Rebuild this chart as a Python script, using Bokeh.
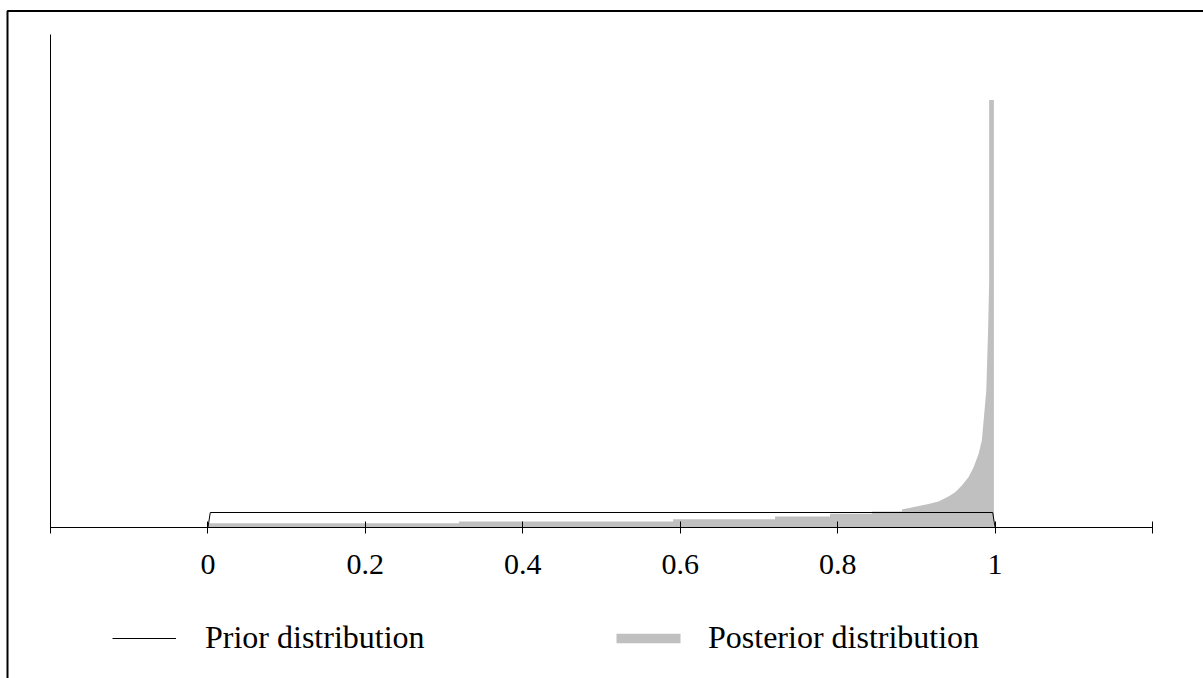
from bokeh.plotting import figure
from bokeh.models import Range1d, LinearAxis, FixedTicker, Legend, LegendItem
from bokeh.embed import file_html
from bokeh.resources import INLINE

# ---- data -------------------------------------------------------------
# x-axis ticks
tick_values = [-0.2, 0.0, 0.2, 0.4, 0.6, 0.8, 1.0, 1.2]
tick_labels = ["", "0", "0.2", "0.4", "0.6", "0.8", "1", ""]

# prior: uniform density on [0, 1]
prior_x = [-0.2, 0.0, 0.003, 0.997, 1.0, 1.2]
prior_y = [0.0, 0.0, 1.0, 1.0, 0.0, 0.0]

# posterior: piecewise-constant part ...
step_edges = [0.0, 0.319, 0.591, 0.7205, 0.7903, 0.8436, 0.8817]
step_density = [0.28, 0.40, 0.55, 0.73, 0.91, 1.07]
# ... smooth rise towards 1 ...
curve_x = [0.8817, 0.9154, 0.9281, 0.9408, 0.9493, 0.9578, 0.9662,
           0.9726, 0.9790, 0.9832, 0.9888, 0.9910, 0.9925]
curve_y = [1.20, 1.56, 1.73, 2.07, 2.35, 2.80, 3.35,
           4.00, 4.90, 5.80, 9.10, 12.90, 16.30]
# ... and the final spike
spike_x = [0.9925, 0.9985]
spike_density = 28.5

# ---- geometry ---------------------------------------------------------
W, H = 1203, 678
X_LO, X_HI = -0.2, 1.2
X_LO_PX, X_HI_PX = 50, 1152      # screen position of X_LO / X_HI
ZERO_PX = 527                    # screen row of density 0
PX_PER_UNIT_Y = 15
Y_AXIS_TOP_PX = 34

ppu = (X_HI_PX - X_LO_PX) / (X_HI - X_LO)
x_start = X_LO - X_LO_PX / ppu
x_end = X_LO + (W - X_LO_PX) / ppu
y_end = ZERO_PX / PX_PER_UNIT_Y
y_start = -(H - ZERO_PX) / PX_PER_UNIT_Y


def sx(px):
    return X_LO + (px - X_LO_PX) / ppu


def sy(py):
    return (ZERO_PX - py) / PX_PER_UNIT_Y


p = figure(width=W, height=H,
           x_range=Range1d(x_start, x_end), y_range=Range1d(y_start, y_end),
           x_axis_location=None, y_axis_location=None,
           toolbar_location=None, output_backend="svg",
           min_border=0, outline_line_color=None,
           background_fill_color="white", border_fill_color="white")
p.xgrid.visible = False
p.ygrid.visible = False

# posterior outline polygon
post_x, post_y = [0.0], [0.0]
for i, d in enumerate(step_density):
    post_x += [step_edges[i], step_edges[i + 1]]
    post_y += [d, d]
post_x += curve_x
post_y += curve_y
post_x += [spike_x[0], spike_x[1], spike_x[1]]
post_y += [spike_density, spike_density, 0.0]

post_r = p.varea(x=post_x, y1=[0.0] * len(post_x), y2=post_y,
                 fill_color="#c0c0c0")

prior_r = p.line(prior_x, prior_y, line_color="black", line_width=1)

# outer frame (top and left edges)
p.line([sx(7), sx(7), x_end], [y_start, sy(10.5), sy(10.5)],
       line_color="black", line_width=2)

xaxis = LinearAxis(fixed_location=0, bounds=(X_LO, X_HI),
                   ticker=FixedTicker(ticks=tick_values),
                   major_label_overrides=dict(zip(tick_values, tick_labels)),
                   major_tick_in=6, major_tick_out=6,
                   minor_tick_line_color=None,
                   axis_line_color="black", major_tick_line_color="black",
                   major_label_text_font="Liberation Serif",
                   major_label_text_font_size="30px",
                   major_label_text_color="black",
                   major_label_standoff=21)
p.add_layout(xaxis, "below")

yaxis = LinearAxis(fixed_location=X_LO, bounds=(0, sy(Y_AXIS_TOP_PX)),
                   ticker=FixedTicker(ticks=[]),
                   major_tick_line_color=None, minor_tick_line_color=None,
                   axis_line_color="black", major_label_text_alpha=0)
p.add_layout(yaxis, "left")

legend_style = dict(orientation="horizontal", padding=0, margin=0,
                    border_line_color=None, background_fill_alpha=0,
                    label_text_font="Liberation Serif",
                    label_text_font_size="32px", label_text_color="black")

prior_legend = Legend(items=[LegendItem(label="Prior distribution", renderers=[prior_r])],
                      location=(112, 22), glyph_width=64, glyph_height=12,
                      label_standoff=29, **legend_style)
# area swatches are inset by 10% on each side, hence the larger box
post_legend = Legend(items=[LegendItem(label="Posterior distribution", renderers=[post_r])],
                     location=(608, 22), glyph_width=80, glyph_height=12,
                     label_standoff=20, **legend_style)
p.add_layout(prior_legend)
p.add_layout(post_legend)

open("out.html", "w").write(file_html(p, INLINE))
